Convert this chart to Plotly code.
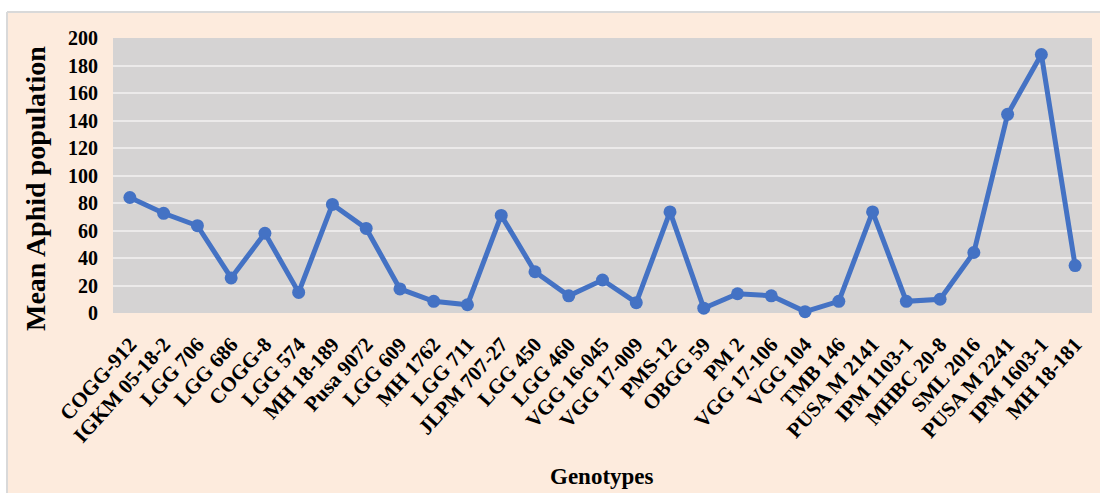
import plotly.graph_objects as go

genotypes = ["COGG-912", "IGKM 05-18-2", "LGG 706", "LGG 686", "COGG-8", "LGG 574",
             "MH 18-189", "Pusa 9072", "LGG 609", "MH 1762", "LGG 711", "JLPM 707-27",
             "LGG 450", "LGG 460", "VGG 16-045", "VGG 17-009", "PMS-12", "OBGG 59",
             "PM 2", "VGG 17-106", "VGG 104", "TMB 146", "PUSA M 2141", "IPM 1103-1",
             "MHBC 20-8", "SML 2016", "PUSA M 2241", "IPM 1603-1", "MH 18-181"]
aphid_mean = [84, 72.5, 63.5, 25.5, 58, 15, 79, 61.5, 17.5, 8.5, 6, 71, 30, 12.5, 24,
              7.5, 73.5, 3.5, 14, 12.5, 1, 8.5, 73.5, 8.5, 10, 44, 144.5, 188, 34.5]
y_ticks = [0, 20, 40, 60, 80, 100, 120, 140, 160, 180, 200]

FONT = "Liberation Serif"
PEACH = "#FDEBDD"
L, T, W, H = 113, 38, 979, 275

fig = go.Figure()
fig.add_trace(go.Scatter(
    x=genotypes, y=aphid_mean, mode="lines+markers",
    line=dict(color="#4472C4", width=5),
    marker=dict(color="#4472C4", size=13),
    showlegend=False, cliponaxis=False,
))

fig.update_layout(
    width=1100, height=493,
    margin=dict(l=L, r=1100 - L - W, t=T, b=493 - T - H),
    paper_bgcolor=PEACH,
    plot_bgcolor="#D5D3D3",
    font=dict(family=FONT, color="#000000"),
    xaxis=dict(
        type="category", range=[-0.5, len(genotypes) - 0.5],
        tickangle=-48,
        tickfont=dict(family=FONT, size=21, color="#000000", weight="bold"),
        showgrid=False, zeroline=False, showline=False,
        ticklabelstandoff=14,
    ),
    yaxis=dict(
        range=[0, 200], tickvals=y_ticks,
        tickfont=dict(family=FONT, size=20, color="#000000", weight="bold"),
        showgrid=True, gridcolor="#ECEAEA", gridwidth=1.5,
        zeroline=False, showline=False,
        ticklabelstandoff=14,
    ),
    annotations=[
        dict(text="<b>Mean Aphid population</b>", xref="paper", yref="paper",
             x=(35 - L) / W, y=(T + H - 189) / H, showarrow=False, textangle=-90,
             font=dict(family=FONT, size=28, color="#000000"),
             xanchor="center", yanchor="middle"),
        dict(text="<b>Genotypes</b>", xref="paper", yref="paper",
             x=(602 - L) / W, y=(T + H - 476) / H, showarrow=False,
             font=dict(family=FONT, size=23, color="#000000"),
             xanchor="center", yanchor="middle"),
    ],
    shapes=[
        dict(type="rect", xref="paper", yref="paper",
             x0=-0.2, x1=1.1, y0=(T + H - 12) / H, y1=1.5,
             fillcolor="#FFFFFF", line=dict(width=0), layer="above"),
        dict(type="rect", xref="paper", yref="paper",
             x0=-0.2, x1=(7 - L) / W, y0=-1, y1=1.5,
             fillcolor="#FFFFFF", line=dict(width=0), layer="above"),
        dict(type="line", xref="paper", yref="paper",
             x0=(7 - L) / W, x1=1.1, y0=(T + H - 12) / H, y1=(T + H - 12) / H,
             line=dict(color="#D9D9D9", width=2), layer="above"),
        dict(type="line", xref="paper", yref="paper",
             x0=(7 - L) / W, x1=(7 - L) / W, y0=-1, y1=(T + H - 12) / H,
             line=dict(color="#D9D9D9", width=2), layer="above"),
    ],
)

fig.write_html("out.html", config={"displayModeBar": False},
               post_script="document.body.style.margin='0';document.body.style.padding='0';")
